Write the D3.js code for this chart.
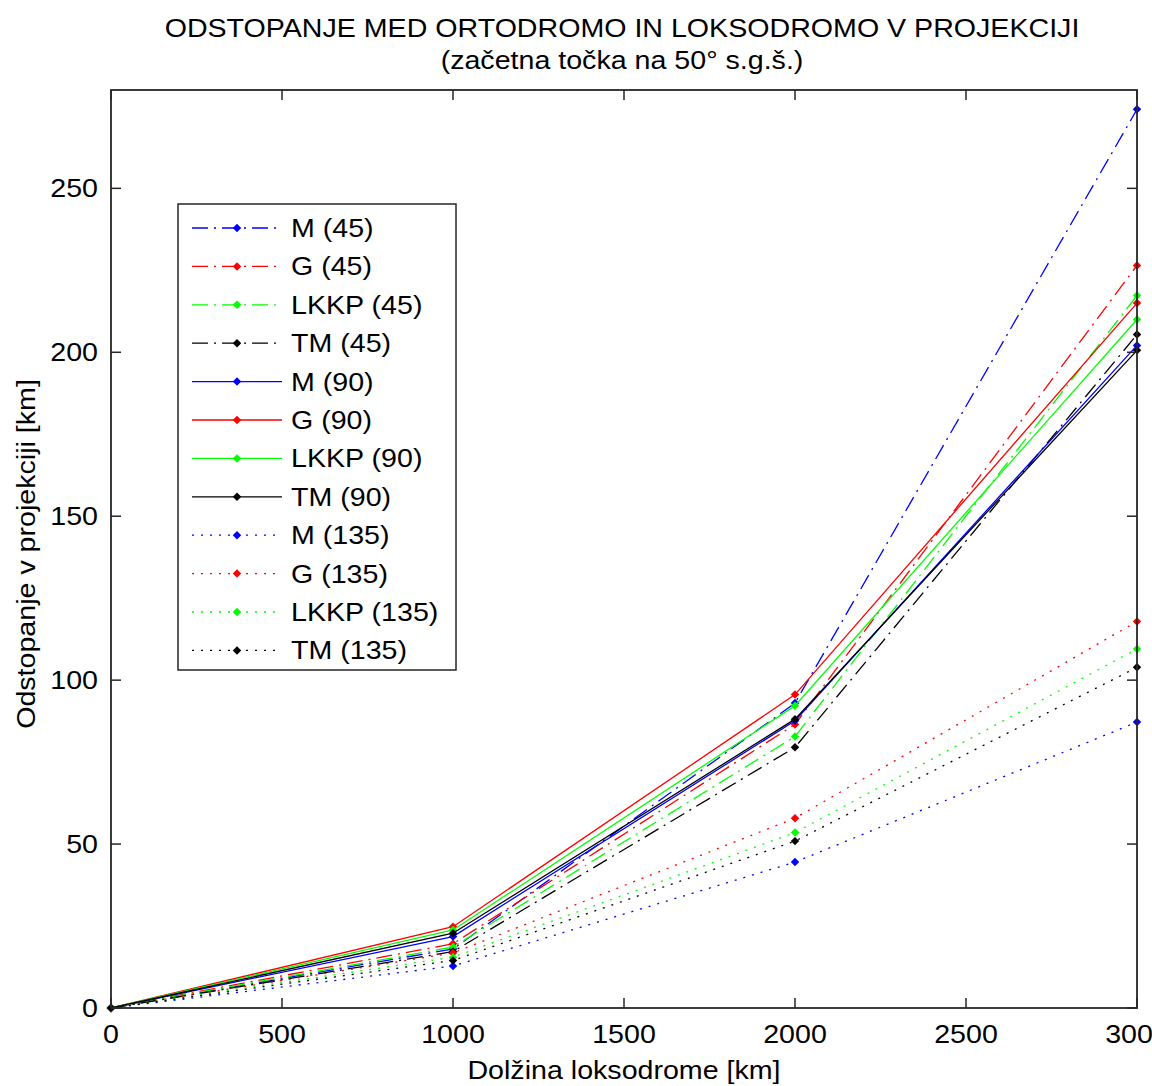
<!DOCTYPE html>
<html>
<head>
<meta charset="utf-8">
<script src="https://cdn.jsdelivr.net/npm/d3@7"></script>
<style>
  body { margin: 0; background: #fff; }
  svg { display: block; font-family: "Liberation Sans", Arial, sans-serif; }
</style>
</head>
<body>
<div id="chart"></div>
<script>
// distances along the loxodrome [km]
const distances = [0, 1000, 2000, 3000];

// deviation in projection [km]
const m45 = [0, 18.0, 93.0, 274.1];
const g45 = [0, 19.6, 86.5, 226.5];
const lkkp45 = [0, 18.6, 82.8, 217.3];
const tm45 = [0, 17.2, 79.5, 205.4];
const m90 = [0, 21.8, 87.6, 202.1];
const g90 = [0, 24.8, 95.6, 215.0];
const lkkp90 = [0, 23.8, 92.2, 210.0];
const tm90 = [0, 22.8, 88.1, 200.6];
const m135 = [0, 12.8, 44.5, 87.2];
const g135 = [0, 16.8, 57.9, 117.9];
const lkkp135 = [0, 15.5, 53.5, 109.5];
const tm135 = [0, 14.5, 50.9, 103.9];

const seriesNames = ["M (45)", "G (45)", "LKKP (45)", "TM (45)",
  "M (90)", "G (90)", "LKKP (90)", "TM (90)",
  "M (135)", "G (135)", "LKKP (135)", "TM (135)"];
const seriesValues = [m45, g45, lkkp45, tm45, m90, g90, lkkp90, tm90, m135, g135, lkkp135, tm135];

const xTicks = [0, 500, 1000, 1500, 2000, 2500, 3000];
const yTicks = [0, 50, 100, 150, 200, 250];

const colors = ["#0000ff", "#ff0000", "#00ff00", "#000000"];
const dashes = ["16,6,2,6", null, "2,7"]; // dash-dot, solid, dotted

const width = 1152, height = 1086;
const margin = { top: 90, right: 15, bottom: 78, left: 111 };
const plotW = 1137 - margin.left;
const plotH = 1008 - margin.top;
const fontSize = 26;
const stretch = 1.1; // the original lettering is a bit wider than Liberation Sans

const svg = d3.select("#chart").append("svg")
  .attr("width", width)
  .attr("height", height);

const x = d3.scaleLinear().domain([0, 3000]).range([margin.left, margin.left + plotW]);
const y = d3.scaleLinear().domain([0, 280]).range([margin.top + plotH, margin.top]);

// text helper: stretched horizontally, optionally rotated
function addText(parent, tx, ty, str, anchor, rot) {
  const g = parent.append("g")
    .attr("transform", "translate(" + tx + "," + ty + ")" + (rot ? " rotate(" + rot + ")" : "") + " scale(" + stretch + ",1)");
  g.append("text")
    .attr("text-anchor", anchor || "start")
    .attr("font-size", fontSize)
    .attr("fill", "#000")
    .text(str);
  return g;
}

// title
addText(svg, 622, 37, "ODSTOPANJE MED ORTODROMO IN LOKSODROMO V PROJEKCIJI", "middle");
addText(svg, 622, 69, "(začetna točka na 50° s.g.š.)", "middle");

// series
const line = d3.line().x((d, i) => x(distances[i])).y(d => y(d));
const gLines = svg.append("g");
seriesValues.forEach(function (vals, k) {
  const col = colors[k % 4];
  const dash = dashes[Math.floor(k / 4)];
  gLines.append("path")
    .attr("d", line(vals))
    .attr("fill", "none")
    .attr("stroke", col)
    .attr("stroke-width", 1.3)
    .attr("stroke-dasharray", dash);
  gLines.selectAll(null)
    .data(vals)
    .enter()
    .append("path")
    .attr("d", d3.symbol().type(d3.symbolSquare).size(36))
    .attr("transform", (d, i) => "translate(" + x(distances[i]) + "," + y(d) + ") rotate(45)")
    .attr("fill", col);
});

// axes box with inward ticks
const axisColor = "#262626";
svg.append("rect")
  .attr("x", margin.left).attr("y", margin.top)
  .attr("width", plotW).attr("height", plotH)
  .attr("fill", "none")
  .attr("stroke", axisColor)
  .attr("stroke-width", 1.8);

const tickLen = 10;
const gAxes = svg.append("g").attr("stroke", axisColor).attr("stroke-width", 1.5);
xTicks.forEach(function (t) {
  gAxes.append("line").attr("x1", x(t)).attr("x2", x(t))
    .attr("y1", y(0)).attr("y2", y(0) - tickLen);
  gAxes.append("line").attr("x1", x(t)).attr("x2", x(t))
    .attr("y1", margin.top).attr("y2", margin.top + tickLen);
});
yTicks.forEach(function (t) {
  gAxes.append("line").attr("x1", margin.left).attr("x2", margin.left + tickLen)
    .attr("y1", y(t)).attr("y2", y(t));
  gAxes.append("line").attr("x1", margin.left + plotW).attr("x2", margin.left + plotW - tickLen)
    .attr("y1", y(t)).attr("y2", y(t));
});

const gTickLabels = svg.append("g");
xTicks.forEach(t => addText(gTickLabels, x(t), y(0) + 35, t, "middle"));
yTicks.forEach(t => addText(gTickLabels, margin.left - 13, y(t) + 9, t, "end"));

addText(svg, 624, 1079, "Dolžina loksodrome [km]", "middle");
addText(svg, 35, margin.top + plotH / 2 + 5, "Odstopanje v projekciji [km]", "middle", -90);

// legend
const legend = svg.append("g").attr("transform", "translate(178,204)");
legend.append("rect")
  .attr("width", 278).attr("height", 466)
  .attr("fill", "#fff")
  .attr("stroke", axisColor)
  .attr("stroke-width", 1.5);
seriesNames.forEach(function (name, k) {
  const col = colors[k % 4];
  const dash = dashes[Math.floor(k / 4)];
  const ly = 24 + k * 38.4;
  legend.append("line")
    .attr("x1", 14).attr("x2", 104)
    .attr("y1", ly).attr("y2", ly)
    .attr("stroke", col)
    .attr("stroke-width", 1.3)
    .attr("stroke-dasharray", dash);
  legend.append("path")
    .attr("d", d3.symbol().type(d3.symbolSquare).size(36))
    .attr("transform", "translate(59," + ly + ") rotate(45)")
    .attr("fill", col);
  addText(legend, 113, ly + 9, name, "start");
});
</script>
</body>
</html>
